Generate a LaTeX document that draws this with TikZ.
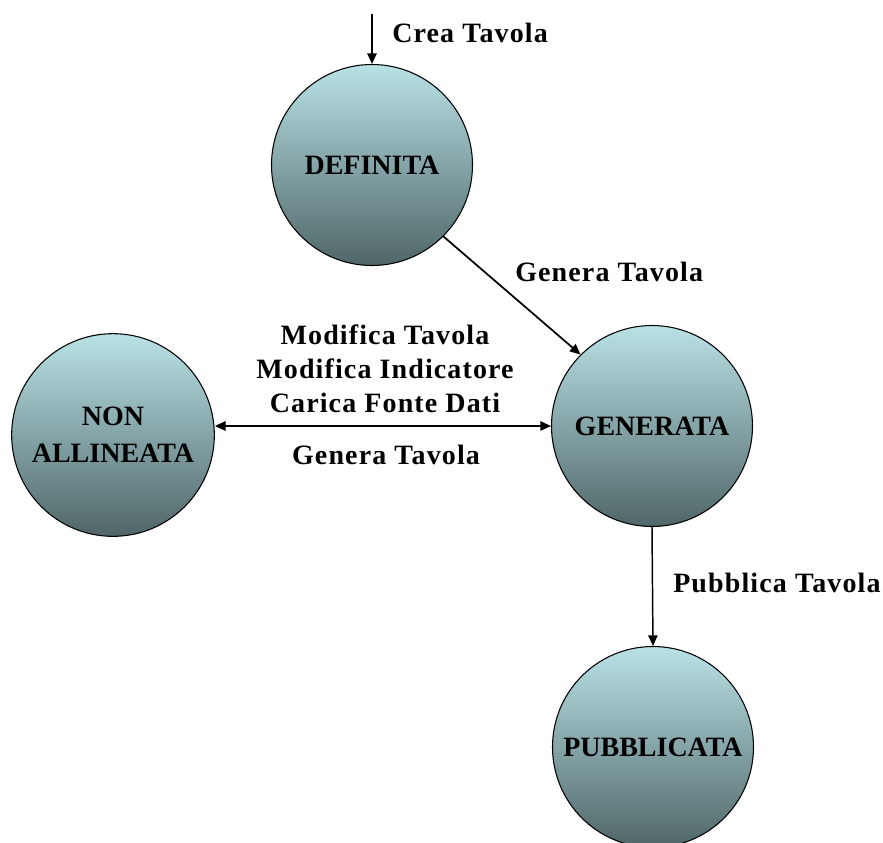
\documentclass[tikz,border=0pt]{standalone}
\usepackage{fontspec}
\setmainfont{Liberation Serif}
\usetikzlibrary{arrows.meta,calc}
\definecolor{cTop}{RGB}{185,226,230}
\definecolor{cBot}{RGB}{80,102,104}
\tikzset{
  state/.style={circle,draw=black,line width=0.8pt,top color=cTop,bottom color=cBot,
    minimum size=150.75pt,inner sep=0pt,align=center,
    font=\fontsize{21}{28}\selectfont\bfseries},
  lbl/.style={font=\fontsize{21}{25.5}\selectfont\bfseries\addfontfeatures{LetterSpace=4},inner sep=0pt,align=center},
  conn/.style={line width=1.3pt,-{Triangle[length=8pt,width=7pt]}},
}
\begin{document}
\begin{tikzpicture}[x=0.75pt,y=-0.75pt]
\useasboundingbox (0,0) rectangle (883,843);
\node[state] (def) at (372,165) {DEFINITA};
\node[state] (gen) at (652,426) {GENERATA};
\node[state,minimum size=152pt] (na) at (113,435) {NON\\ALLINEATA};
\node[state] (pub) at (653,747) {PUBBLICATA};
\coordinate (start) at (372,14);
\draw[conn,line width=1.6pt] (start) -- (def.north);
\draw[conn] (def.-45) -- (gen.135);
\draw[line width=1.3pt,{Triangle[length=8pt,width=7pt]}-{Triangle[length=8pt,width=7pt]}] (gen.west -| na.east) -- (gen.west);
\draw[conn,line width=1.1pt] (gen.south) -- (pub.north);
\node[lbl,anchor=west] (l1) at (392,33) {Crea Tavola};
\node[lbl,anchor=west] (l2) at (515,272) {Genera Tavola};
\node[lbl] (l3) at (385,369) {Modifica Tavola\\Modifica Indicatore\\Carica Fonte Dati};
\node[lbl] (l4) at (386,455) {Genera Tavola};
\node[lbl,anchor=west] (l5) at (673,583) {Pubblica Tavola};
\end{tikzpicture}
\end{document}
